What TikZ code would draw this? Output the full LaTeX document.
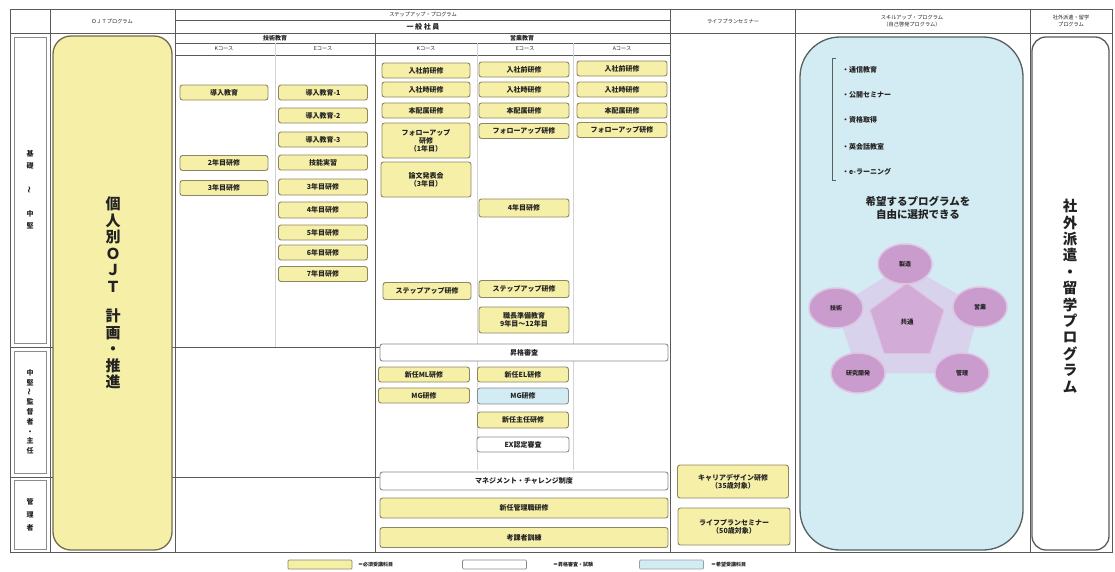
\documentclass[tikz,border=0pt]{standalone}
\usepackage{fontspec}
\setmainfont{Noto Sans CJK JP}
\usepackage{graphicx}
\usetikzlibrary{shapes.geometric}
\definecolor{yf}{HTML}{F6EFA8}
\definecolor{yd}{HTML}{8E8660}
\definecolor{bf}{HTML}{D3EBF2}
\definecolor{bd}{HTML}{56605F}
\definecolor{wd}{HTML}{8A8A8A}
\definecolor{gl}{HTML}{5A5A5A}
\definecolor{subc}{HTML}{D4D4D4}
\definecolor{pout}{HTML}{D8D2EC}
\definecolor{pin}{HTML}{D2ABD7}
\definecolor{sat}{HTML}{C99CCD}
\definecolor{satd}{HTML}{DEC3E2}
\definecolor{txt}{HTML}{222222}
\newcommand\fs[2]{\fontsize{#1}{#2}\selectfont}
\newcommand\bx[7]{\node[#1,minimum width=#4pt,minimum height=#5pt] (#6) at (#2,#3) {#7};}
\newcommand\vwave{\rotatebox{90}{～}}
\begin{document}
\begin{tikzpicture}[x=1pt,y=-1pt,
  grid/.style={draw=gl,line width=0.8pt},
  subline/.style={draw=subc,line width=0.6pt},
  box/.style={rounded corners=2.5pt,line width=0.9pt,inner sep=0pt,align=center,font=\fs{7}{8}\bfseries,text=txt},
  yb/.style={box,draw=yd,fill=yf},
  wb/.style={box,draw=wd,fill=white},
  bb/.style={box,draw=bd!70,fill=bf},
  hdr/.style={font=\fs{5.2}{6.5},text=txt,inner sep=0pt,align=center},
  grp/.style={font=\fs{6}{7}\bfseries,text=txt,inner sep=0pt,align=center},
  lbl/.style={draw=gl!70,line width=0.6pt,inner sep=0pt,align=center,font=\fs{7}{12}\bfseries,text=txt},
  bigbox/.style={line width=1.3pt},
  vbig/.style={inner sep=0pt,align=center,text=txt},
  satl/.style={ellipse,minimum width=54pt,minimum height=40pt,fill=sat,draw=satd,line width=1.5pt,inner sep=0pt,font=\fs{6}{7}\bfseries,text=txt},
  bul/.style={anchor=west,inner sep=0pt,font=\fs{7}{8}\bfseries,text=txt},
  leg/.style={rounded corners=1pt,line width=0.7pt,inner sep=0pt,minimum width=64pt,minimum height=9pt},
  legt/.style={anchor=west,inner sep=0pt,font=\fs{5}{6}\bfseries,text=txt}
]
\path[use as bounding box] (0,0) rectangle (1115,571);
\fill[white] (0,0) rectangle (1115,571);

% ---- grid ----
\draw[grid] (10,9) rectangle (1112,552);
\draw[grid] (10,33) -- (1112,33);
\draw[grid] (175,20) -- (670,20);
\draw[grid] (175,43) -- (670,43);
\draw[grid] (175,55) -- (670,55);
\foreach \xx in {50,175,670,795,1030} \draw[grid] (\xx,9) -- (\xx,552);
\draw[grid] (375,33) -- (375,552);
\draw[subline] (275,43) -- (275,347);
\draw[subline] (477,43) -- (477,470);
\draw[subline] (573,43) -- (573,470);
\draw[grid] (10,347) -- (380,347);
\draw[grid] (10,477) -- (380,477);

% ---- headers ----
\node[hdr] (hojt) at (112,21) {ＯＪＴプログラム};
\node[hdr] (hstep) at (423,15) {ステップアップ・プログラム};
\node[grp,font=\fs{7}{8}\bfseries] (hippan) at (423,27) {一\ 般\ 社\ 員};
\node[grp] (hg1) at (275,38) {技術教育};
\node[grp] (hg2) at (522,38) {営業教育};
\node[hdr] (c1) at (224,49) {Kコース};
\node[hdr] (c2) at (323,49) {Eコース};
\node[hdr] (c3) at (426,49) {Kコース};
\node[hdr] (c4) at (525,49) {Eコース};
\node[hdr] (c5) at (622,49) {Aコース};
\node[hdr] (hlife) at (733,21) {ライフプランセミナー};
\node[hdr] (hskill) at (912,21) {スキルアップ・プログラム\\（自己啓発プログラム）};
\node[hdr] (hshagai) at (1071,21) {社外派遣・留学\\プログラム};

% ---- left labels ----
\node[lbl,minimum width=32pt,minimum height=306pt] (L1) at (30,190) {基\\礎\\[13pt]\vwave\\[11pt]中\\堅};
\node[lbl,minimum width=32pt,minimum height=122pt,font=\fs{7}{9.7}\bfseries] (L2) at (30,412) {中\\堅\\\vwave\\監\\督\\者\\・\\主\\任};
\node[lbl,minimum width=32pt,minimum height=69pt,font=\fs{7}{13}\bfseries] (L3) at (30,514.5) {管\\理\\者};

% ---- OJT ----
\node[bigbox,draw=yd!80!black,fill=yf,rounded corners=18pt,minimum width=119pt,minimum height=514pt] (ojt) at (112.5,293) {};
\node[vbig,font=\fs{15}{16.5}\bfseries] (ojtt) at (113,293) {個\\人\\別\\Ｏ\\Ｊ\\Ｔ\\[13pt]計\\画\\・\\推\\進};

% ---- left group boxes ----
\bx{yb}{224}{92.5}{88}{15}{k1}{導入教育}
\bx{yb}{224}{163}{88}{15}{k2}{2年目研修}
\bx{yb}{224}{188}{88}{15}{k3}{3年目研修}
\bx{yb}{323}{92.5}{89}{15}{e1}{導入教育-1}
\bx{yb}{323}{115.5}{89}{15}{e2}{導入教育-2}
\bx{yb}{323}{139.5}{89}{15}{e3}{導入教育-3}
\bx{yb}{323}{162.5}{89}{15}{e4}{技能実習}
\bx{yb}{323}{187}{89}{16}{e5}{3年目研修}
\bx{yb}{323}{210}{89}{16}{e6}{4年目研修}
\bx{yb}{323}{232.5}{89}{15}{e7}{5年目研修}
\bx{yb}{323}{252.5}{89}{15}{e8}{6年目研修}
\bx{yb}{323}{274}{89}{15}{e9}{7年目研修}

% ---- right group col1 ----
\bx{yb}{426}{70.5}{88}{15}{ra1}{入社前研修}
\bx{yb}{426}{89.5}{88}{15}{ra2}{入社時研修}
\bx{yb}{426}{110.5}{88}{15}{ra3}{本配属研修}
\bx{yb}{426}{140.5}{88}{35}{ra4}{フォローアップ\\研修\\（1年目）}
\bx{yb}{426}{179.5}{90}{35}{ra5}{論文発表会\\（3年目）}
\bx{yb}{427}{291}{88}{17}{ra6}{ステップアップ研修}
\bx{yb}{424}{374.5}{91}{15}{ra7}{新任ML研修}
\bx{yb}{424}{395.5}{91}{15}{ra8}{MG研修}
% ---- col2 ----
\bx{yb}{524}{69.5}{90}{15}{rb1}{入社前研修}
\bx{yb}{524}{89.5}{90}{15}{rb2}{入社時研修}
\bx{yb}{524}{110.5}{90}{15}{rb3}{本配属研修}
\bx{yb}{524}{131}{90}{15}{rb4}{フォローアップ研修}
\bx{yb}{524}{208}{90}{18}{rb5}{4年目研修}
\bx{yb}{524}{289}{90}{17}{rb6}{ステップアップ研修}
\bx{yb}{524}{320}{90}{26}{rb7}{職長準備教育\\9年目～12年目}
\bx{yb}{523}{374.5}{91}{15}{rb8}{新任EL研修}
\bx{bb}{523}{396}{91}{16}{rb9}{MG研修}
\bx{yb}{523}{420}{91}{16}{rb10}{新任主任研修}
\bx{wb}{523}{444.5}{92}{15}{rb11}{EX認定審査}
% ---- col3 ----
\bx{yb}{622}{68.5}{90}{15}{rc1}{入社前研修}
\bx{yb}{622}{89.5}{90}{15}{rc2}{入社時研修}
\bx{yb}{622}{110.5}{90}{15}{rc3}{本配属研修}
\bx{yb}{622}{130}{90}{15}{rc4}{フォローアップ研修}
% ---- wide ----
\bx{wb}{524}{352.5}{288}{17}{w1}{昇格審査}
\bx{wb}{524}{481}{288}{18}{w2}{マネジメント・チャレンジ制度}
\bx{yb}{524}{508}{288}{20}{w3}{新任管理職研修}
\bx{yb}{524}{537.5}{288}{20}{w4}{考課者訓練}

% ---- life plan ----
\bx{yb}{733}{481.5}{111}{33}{lp1}{キャリアデザイン研修\\（35歳対象）}
\bx{yb}{734}{526.5}{112}{37}{lp2}{ライフプランセミナー\\（50歳対象）}

% ---- skill up ----
\node[bigbox,draw=bd,fill=bf,rounded corners=40pt,minimum width=223pt,minimum height=513pt] (skill) at (911.5,293.5) {};
\draw[bd,line width=0.8pt] (836,58) -- (832,58) -- (832,180) -- (836,180);
\node[bul] (b1) at (842,70) {・通信教育};
\node[bul] (b2) at (842,95) {・公開セミナー};
\node[bul] (b3) at (842,120) {・資格取得};
\node[bul] (b4) at (842,147) {・英会話教室};
\node[bul] (b5) at (842,172) {・e-ラーニング};
\node[vbig,font=\fs{10.5}{13}\bfseries] (kibou) at (918,208) {希望するプログラムを\\自由に選択できる};
\coordinate (cS) at (905,264);
\coordinate (cE) at (980,307);
\coordinate (cK) at (962,373);
\coordinate (cR) at (858,373);
\coordinate (cG) at (836,308);
\fill[pout] (cS) -- (cE) -- (cK) -- (cR) -- (cG) -- cycle;
\node[regular polygon,regular polygon sides=5,minimum size=78pt,fill=pin,draw=satd,line width=1pt,inner sep=0pt,font=\fs{6.5}{7}\bfseries,text=txt] (kyo) at (907,322) {共通};
\node[satl] (seizo) at (cS) {製造};
\node[satl] (eigyo) at (cE) {営業};
\node[satl] (kanri) at (cK) {管理};
\node[satl] (kenkyu) at (cR) {研究開発};
\node[satl] (gijutsu) at (cG) {技術};

% ---- shagai ----
\node[bigbox,draw=gl,fill=white,rounded corners=14pt,minimum width=77pt,minimum height=513pt] (shagai) at (1070.5,293.5) {};
\node[vbig,font=\fs{14.5}{16.4}\bfseries] (shagait) at (1070,296) {社\\外\\派\\遣\\・\\留\\学\\プ\\ロ\\グ\\ラ\\ム};

% ---- legend ----
\node[leg,draw=yd,fill=yf] (lg1) at (320,564.5) {};
\node[legt] (lt1) at (358,564.5) {＝必須受講科目};
\node[leg,draw=wd,fill=white] (lg2) at (494.5,564.5) {};
\node[legt] (lt2) at (553,564.5) {＝昇格審査・試験};
\node[leg,draw=bd!60,fill=bf] (lg3) at (671.5,564.5) {};
\node[legt] (lt3) at (711,564.5) {＝希望受講科目};
\end{tikzpicture}
\end{document}
